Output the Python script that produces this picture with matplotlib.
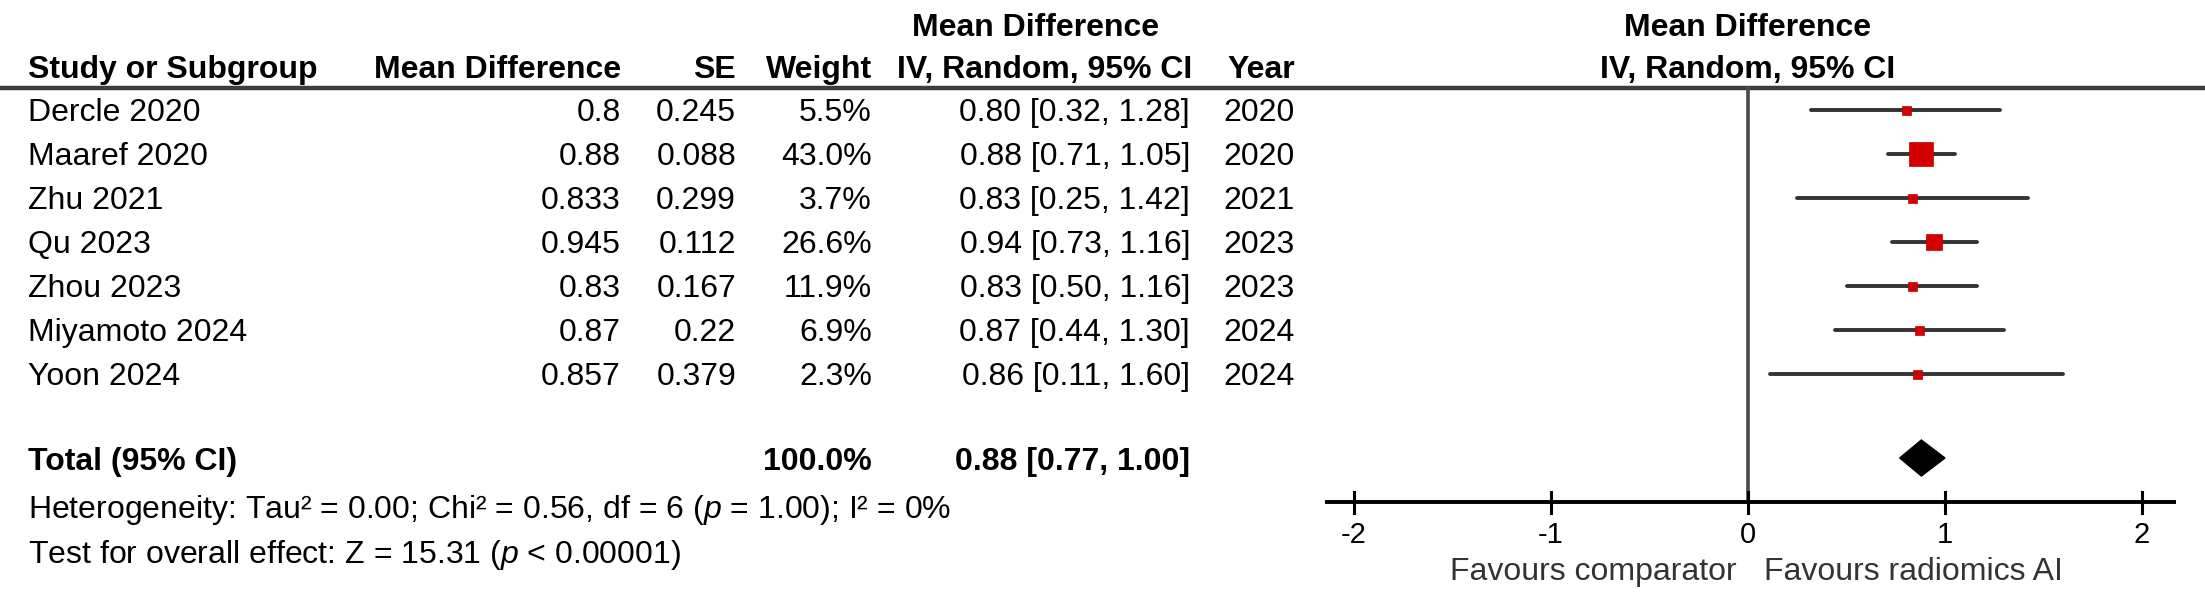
import matplotlib
matplotlib.use("Agg")
import matplotlib.pyplot as plt

plt.rcParams['font.family'] = ['Liberation Sans', 'DejaVu Sans']
plt.rcParams['mathtext.fontset'] = 'custom'
plt.rcParams['mathtext.rm'] = 'Liberation Sans'
plt.rcParams['mathtext.it'] = 'Liberation Sans:italic'

# ---------------- data ----------------
studies = ["Dercle 2020", "Maaref 2020", "Zhu 2021", "Qu 2023", "Zhou 2023", "Miyamoto 2024", "Yoon 2024"]
mean_diff = [0.8, 0.88, 0.833, 0.945, 0.83, 0.87, 0.857]
se = [0.245, 0.088, 0.299, 0.112, 0.167, 0.22, 0.379]
weights = [5.5, 43.0, 3.7, 26.6, 11.9, 6.9, 2.3]
ci_est = [0.80, 0.88, 0.83, 0.94, 0.83, 0.87, 0.86]
ci_lo = [0.32, 0.71, 0.25, 0.73, 0.50, 0.44, 0.11]
ci_hi = [1.28, 1.05, 1.42, 1.16, 1.16, 1.30, 1.60]
years = [2020, 2020, 2021, 2023, 2023, 2024, 2024]
total_est, total_lo, total_hi = 0.88, 0.77, 1.00
total_weight = 100.0
axis_ticks = [-2, -1, 0, 1, 2]
heterogeneity = r"Heterogeneity: Tau² = 0.00; Chi² = 0.56, df = 6 ($\mathit{p}$ = 1.00); I² = 0%"
overall = r"Test for overall effect: Z = 15.31 ($\mathit{p}$ < 0.00001)"
fav_left = "Favours comparator"
fav_right = "Favours radiomics AI"

# ---------------- layout ----------------
W, H = 2205, 611
fig = plt.figure(figsize=(W / 100, H / 100), dpi=100)
ax = fig.add_axes([0, 0, 1, 1])
ax.set_xlim(0, W)
ax.set_ylim(H, 0)
ax.axis('off')

FS = 23
row_y = [110 + 44 * i for i in range(len(studies))]
total_y = 459
off = 11  # baseline offset below visual centre

col_study, col_md, col_se, col_wt, col_ci, col_yr = 28, 621, 736, 872, 1190, 1295

def txt(x, y, s, ha='left', bold=False, size=FS, color='black', **kw):
    ax.text(x, y + off * size / FS, s, ha=ha, va='baseline', fontsize=size,
            fontweight='bold' if bold else 'normal', color=color, **kw)

# headers
txt(1036, 25, "Mean Difference", ha='center', bold=True)
txt(col_study, 67, "Study or Subgroup", bold=True)
txt(col_md, 67, "Mean Difference", ha='right', bold=True)
txt(col_se, 67, "SE", ha='right', bold=True)
txt(col_wt, 67, "Weight", ha='right', bold=True)
txt(1192, 67, "IV, Random, 95% CI", ha='right', bold=True)
txt(col_yr, 67, "Year", ha='right', bold=True)
ax.plot([0, W], [88, 88], color='#3c3c3c', lw=3.2, solid_capstyle='butt')

# rows
for i, y in enumerate(row_y):
    txt(col_study, y, studies[i])
    txt(col_md, y, str(mean_diff[i]), ha='right')
    txt(col_se, y, str(se[i]), ha='right')
    txt(col_wt, y, f"{weights[i]:.1f}%", ha='right')
    txt(col_ci, y, f"{ci_est[i]:.2f} [{ci_lo[i]:.2f}, {ci_hi[i]:.2f}]", ha='right')
    txt(col_yr, y, str(years[i]), ha='right')

txt(col_study, total_y, "Total (95% CI)", bold=True)
txt(col_wt, total_y, f"{total_weight:.1f}%", ha='right', bold=True)
txt(col_ci, total_y, f"{total_est:.2f} [{total_lo:.2f}, {total_hi:.2f}]", ha='right', bold=True)
txt(col_study, 507, heterogeneity)
txt(col_study, 552, overall)

# ---------------- forest panel ----------------
zero_px, unit_px = 1748, 197.0
left_px = 1300
fx = fig.add_axes([left_px / W, 0, (W - left_px) / W, 1])
fx.set_xlim((left_px - zero_px) / unit_px, (W - zero_px) / unit_px)
fx.set_ylim(H, 0)
fx.axis('off')

# right header
fx.text(0, 25 + off, "Mean Difference", ha='center', va='baseline', fontsize=FS, fontweight='bold')
fx.text(0, 67 + off, "IV, Random, 95% CI", ha='center', va='baseline', fontsize=FS, fontweight='bold')

axis_y = 502
# line of no effect
fx.plot([0, 0], [88, axis_y], color='#4a4a4a', lw=2.6, zorder=1)

for i, y in enumerate(row_y):
    fx.plot([ci_lo[i], ci_hi[i]], [y, y], color='#333333', lw=2.8, solid_capstyle='round', zorder=2)
    side_px = max(9.0, 0.58 * weights[i])
    fx.plot(mean_diff[i], y, marker='s', ms=side_px * 0.72, color='#d40000',
            markeredgecolor='#c00000', markeredgewidth=0.5, zorder=3)

fx.fill([total_lo, total_est, total_hi, total_est],
        [total_y - 1, total_y - 19, total_y - 1, total_y + 17], color='black', zorder=3)

# x axis
fx.plot([(1325 - zero_px) / unit_px, (2176 - zero_px) / unit_px], [axis_y, axis_y],
        color='black', lw=2.8, solid_capstyle='butt')
for t in axis_ticks:
    fx.plot([t, t], [axis_y - 10, axis_y + 11], color='black', lw=2.2)
    lab = str(t) if t >= 0 else "-" + str(abs(t))
    fx.text(t, 533 + 10, lab, ha='center', va='baseline', fontsize=21)

fx.text((1737 - zero_px) / unit_px, 570 + 10, fav_left, ha='right', va='baseline', fontsize=23, color='#333333')
fx.text((1764 - zero_px) / unit_px, 570 + 10, fav_right, ha='left', va='baseline', fontsize=23, color='#333333')

fig.savefig("out.png", dpi=100, facecolor='white')
